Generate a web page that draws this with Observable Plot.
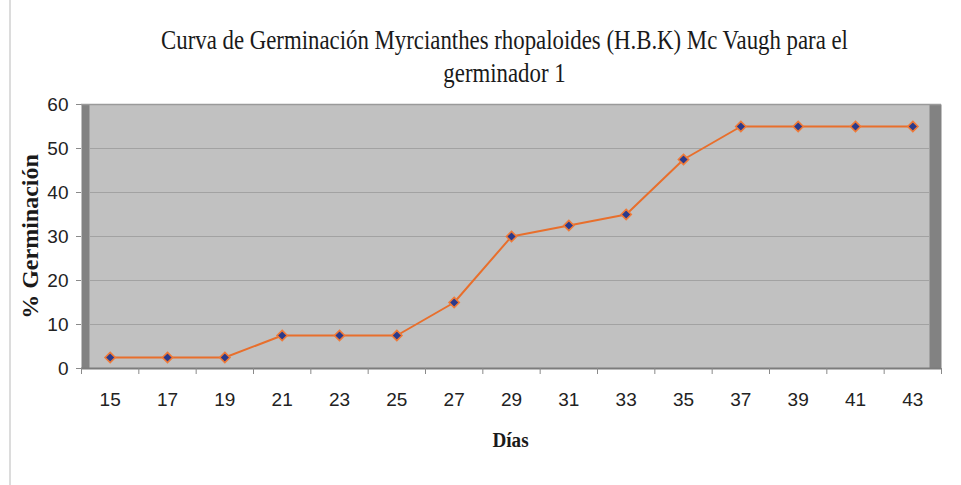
<!DOCTYPE html>
<html>
<head>
<meta charset="utf-8">
<script src="https://cdn.jsdelivr.net/npm/d3@7"></script>
<script src="https://cdn.jsdelivr.net/npm/@observablehq/plot@0.6"></script>
<style>
  html, body { margin: 0; padding: 0; background: #fff; }
  #wrap { position: relative; width: 961px; height: 485px; overflow: hidden; }
  #edge { position: absolute; left: 9px; top: 0; width: 2px; height: 485px; background: #dcdcdc; }
  svg { display: block; }
</style>
</head>
<body>
<div id="wrap"><div id="edge"></div></div>
<script>
const titleLines = ["Curva de Germinación Myrcianthes rhopaloides (H.B.K) Mc Vaugh para el", "germinador 1"];
const yTitle = "% Germinación";
const xTitle = "Días";
const days = [15, 17, 19, 21, 23, 25, 27, 29, 31, 33, 35, 37, 39, 41, 43];
const germination = [2.5, 2.5, 2.5, 7.5, 7.5, 7.5, 15, 30, 32.5, 35, 47.5, 55, 55, 55, 55];
const yTicks = [0, 10, 20, 30, 40, 50, 60];
const gridValues = [10, 20, 30, 40, 50];
const xBoundaries = [14, 16, 18, 20, 22, 24, 26, 28, 30, 32, 34, 36, 38, 40, 42, 44];

const data = days.map((d, i) => ({day: d, pct: germination[i]}));

const serif = "'Liberation Serif', 'Times New Roman', serif";
const sans = "'Liberation Sans', Arial, sans-serif";

const chart = Plot.plot({
  width: 961,
  height: 485,
  marginTop: 104,
  marginBottom: 117,
  marginLeft: 81,
  marginRight: 20,
  style: {fontFamily: sans, background: "transparent", overflow: "visible"},
  x: {type: "linear", domain: [14, 44]},
  y: {domain: [0, 60]},
  marks: [
    Plot.frame({fill: "#828282", stroke: null}),
    Plot.frame({fill: "#c1c1c1", stroke: null, insetLeft: 8, insetRight: 12}),
    Plot.ruleY(gridValues, {stroke: "#a2a2a2", strokeWidth: 1.2, insetLeft: 8, insetRight: 12}),
    Plot.ruleY([60], {stroke: "#9a9a9a", strokeWidth: 1.5}),
    Plot.ruleY([0], {stroke: "#7c7c7c", strokeWidth: 2}),
    Plot.axisY({ticks: yTicks, tickSize: 5, tickPadding: 8, stroke: "#8a8a8a", fontSize: 19, fill: "#222", label: null}),
    Plot.axisX({ticks: xBoundaries, tickFormat: () => "", tickSize: 6, stroke: "#8a8a8a", label: null}),
    Plot.axisX({ticks: days, tickSize: 0, tickPadding: 24, fontSize: 19, fill: "#222", label: null}),
    Plot.line(data, {x: "day", y: "pct", stroke: "#E86F2C", strokeWidth: 2}),
    Plot.dot(data, {x: "day", y: "pct", symbol: "diamond2", r: 4.6, fill: "#2B3A8C", stroke: "#F07A38", strokeWidth: 1.6}),
    Plot.text([titleLines[0]], {frameAnchor: "top", textAnchor: "middle", dx: -7, dy: -75, fontSize: 28, fontFamily: serif, fill: "#1a1a1a"}),
    Plot.text([titleLines[1]], {frameAnchor: "top", textAnchor: "middle", dx: -7, dy: -42, fontSize: 28, fontFamily: serif, fill: "#1a1a1a"}),
    Plot.text([yTitle], {frameAnchor: "left", textAnchor: "middle", rotate: -90, dx: -51, fontSize: 24, fontWeight: "bold", fontFamily: serif, fill: "#1a1a1a"}),
    Plot.text([xTitle], {frameAnchor: "bottom", textAnchor: "middle", dx: -1, dy: 78, fontSize: 22, fontWeight: "bold", fontFamily: serif, fill: "#1a1a1a"})
  ]
});
document.getElementById("wrap").appendChild(chart);

// the reference's serif texts are horizontally condensed
const squeeze = new Map([[titleLines[0], 0.815], [titleLines[1], 0.815], [xTitle, 0.87]]);
d3.select(chart).selectAll("text").each(function() {
  const s = squeeze.get(this.textContent);
  if (s === undefined) return;
  const bb = this.getBBox();
  const cx = bb.x + bb.width / 2;
  const t = this.getAttribute("transform") || "";
  this.setAttribute("transform", `${t} translate(${cx},0) scale(${s},1) translate(${-cx},0)`);
});
</script>
</body>
</html>
